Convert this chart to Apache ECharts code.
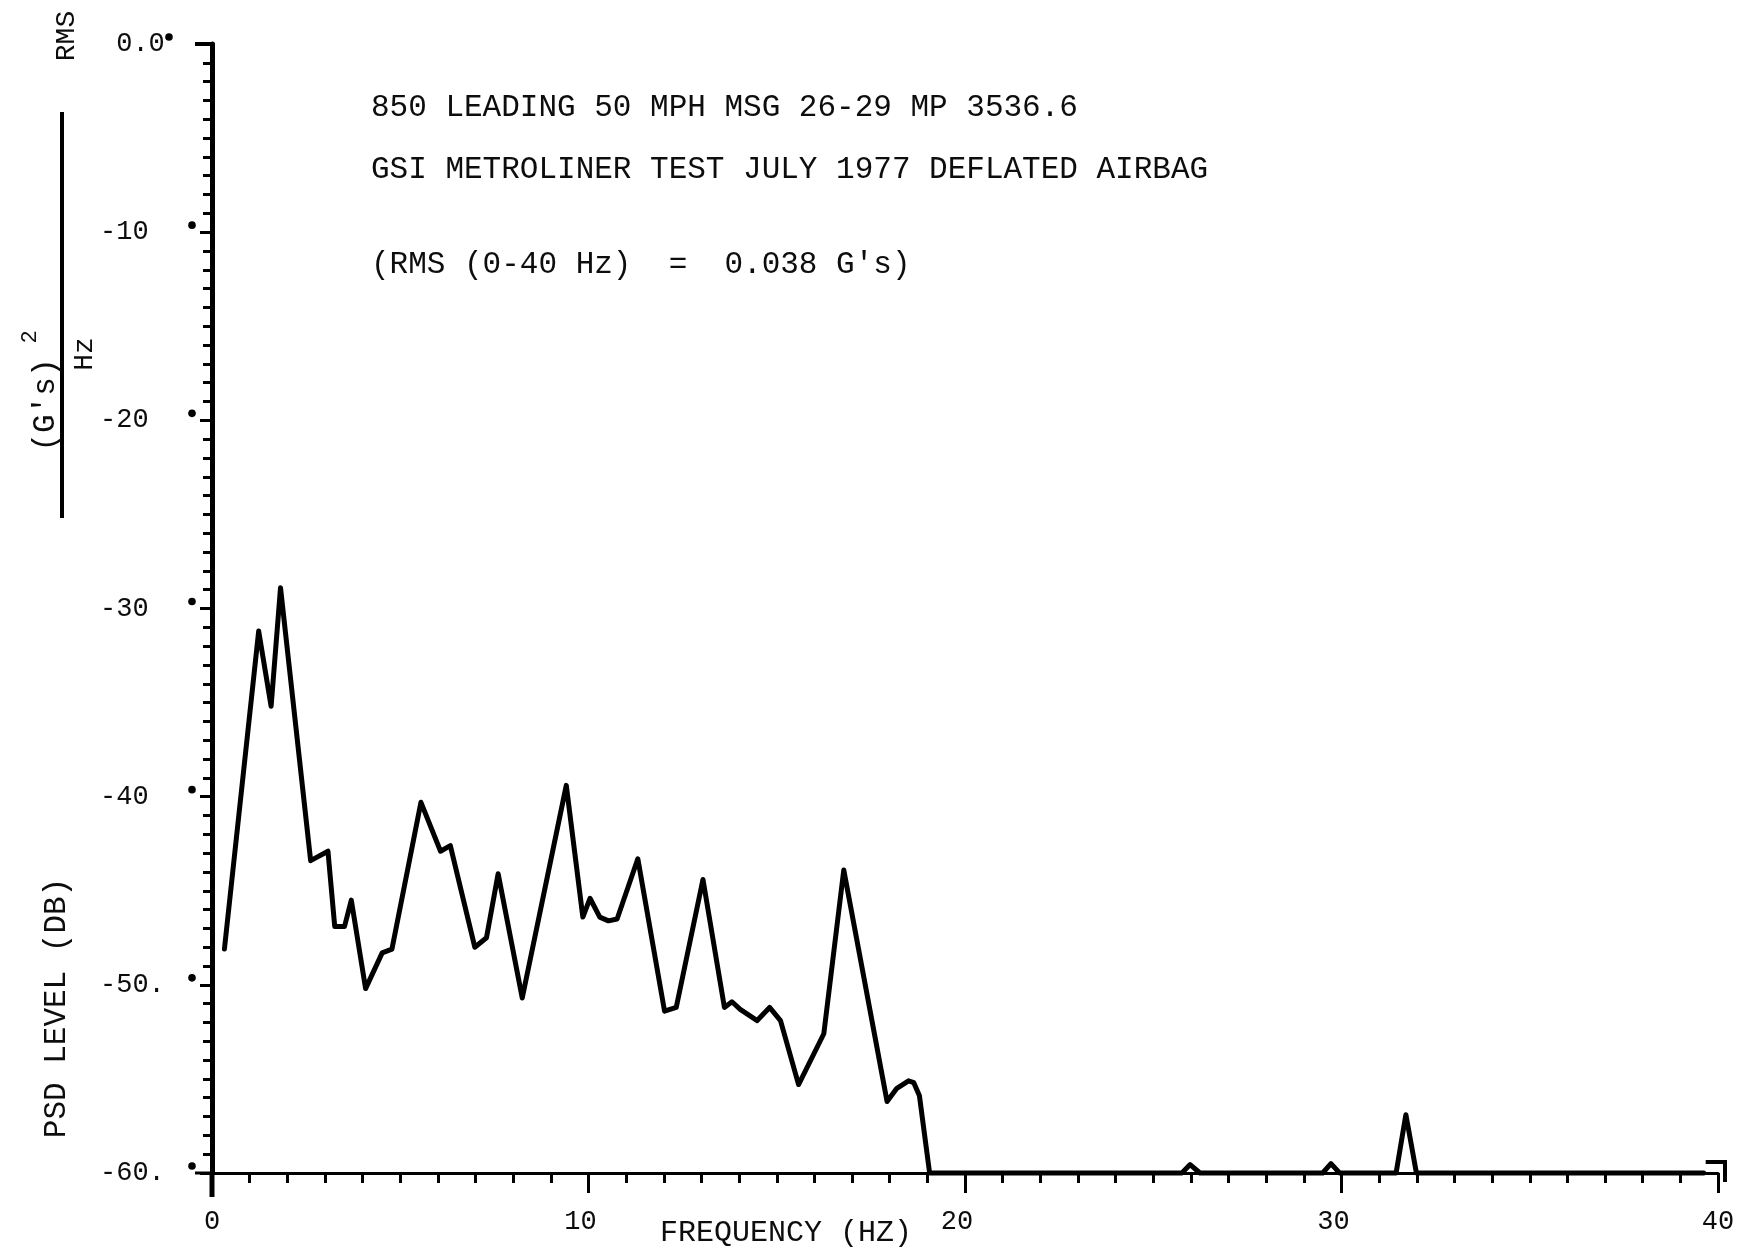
<!DOCTYPE html>
<html>
<head>
<meta charset="utf-8">
<title>PSD LEVEL</title>
<script src="https://cdn.jsdelivr.net/npm/echarts@6/dist/echarts.min.js"></script>
<style>
  html, body { margin: 0; padding: 0; background: #ffffff; }
  #chart { width: 1764px; height: 1258px; }
</style>
</head>
<body>
<div id="chart"></div>
<script>
// Power spectral density of the 850 leading car, 0-40 Hz
const frequencyHz = [
  0.33, 1.24, 1.57, 1.82, 2.62, 3.08, 3.26, 3.52, 3.70, 4.08,
  4.52, 4.78, 5.55, 6.07, 6.33, 6.98, 7.29, 7.60, 8.24, 9.41,
  9.85, 10.04, 10.30, 10.53, 10.76, 11.31, 12.02, 12.33, 13.04, 13.61,
  13.81, 14.03, 14.48, 14.81, 15.10, 15.58, 16.25, 16.78, 17.93, 18.19,
  18.50, 18.64, 18.79, 19.06, 25.76, 25.98, 26.24, 29.50, 29.72, 29.95,
  31.45, 31.71, 31.99, 39.62
];
const psdLevelDb = [
  -48.1, -31.2, -35.2, -28.9, -43.4, -42.9, -46.9, -46.9, -45.5, -50.2,
  -48.3, -48.1, -40.3, -42.9, -42.6, -48.0, -47.5, -44.1, -50.7, -39.4,
  -46.4, -45.4, -46.4, -46.6, -46.5, -43.3, -51.4, -51.2, -44.4, -51.2,
  -50.9, -51.3, -51.9, -51.2, -51.9, -55.3, -52.6, -43.9, -56.2, -55.5,
  -55.1, -55.2, -55.9, -60.0, -60.0, -59.55, -60.0, -60.0, -59.5, -60.0,
  -60.0, -56.9, -60.0, -60.0
];

const xTickValues = [0, 10, 20, 30, 40];
const xTickLabels = ['0', '10', '20', '30', '40'];
const yTickValues = [0, -10, -20, -30, -40, -50, -60];
const yTickLabels = [' 0.0', '-10', '-20', '-30', '-40', '-50.', '-60.'];

const titleLines = [
  '850 LEADING 50 MPH MSG 26-29 MP 3536.6',
  'GSI METROLINER TEST JULY 1977 DEFLATED AIRBAG',
  "(RMS (0-40 Hz)  =  0.038 G's)"
];
const xAxisTitle = 'FREQUENCY (HZ)';
const yAxisTitle = 'PSD LEVEL (DB)';

const MONO = '"Liberation Mono", "DejaVu Sans Mono", monospace';
const INK = '#0d0d0d';

const chart = echarts.init(document.getElementById('chart'), null, { renderer: 'canvas' });

chart.setOption({
  backgroundColor: '#ffffff',
  animation: false,
  grid: { left: 212, right: 46, top: 44, bottom: 85, containLabel: false },
  xAxis: {
    type: 'value',
    min: 0, max: 40, interval: 10,
    axisLine: { onZero: false, lineStyle: { color: '#000', width: 3 } },
    axisTick: { show: true, length: 20, lineStyle: { color: '#000', width: 3 } },
    minorTick: { show: true, splitNumber: 10, length: 10, lineStyle: { color: '#000', width: 3 } },
    splitLine: { show: false },
    minorSplitLine: { show: false },
    axisLabel: {
      margin: 35,
      color: INK,
      fontFamily: MONO,
      fontSize: 27,
      // inner labels sit a little left of their ticks
      formatter: v => {
        const i = xTickValues.indexOf(v);
        if (i < 0) return '';
        return (i === 0 || i === xTickValues.length - 1) ? xTickLabels[i] : '{inner|' + xTickLabels[i] + '}';
      },
      rich: {
        inner: { fontFamily: MONO, fontSize: 27, color: INK, padding: [0, 16, 0, 0] }
      }
    }
  },
  yAxis: {
    type: 'value',
    min: -60, max: 0, interval: 10,
    axisLine: { onZero: false, lineStyle: { color: '#000', width: 5 } },
    axisTick: { show: true, length: 12, lineStyle: { color: '#000', width: 3 } },
    minorTick: { show: true, splitNumber: 10, length: 9, lineStyle: { color: '#000', width: 3 } },
    splitLine: { show: false },
    minorSplitLine: { show: false },
    axisLabel: {
      margin: 112,
      align: 'left',
      verticalAlign: 'middle',
      padding: [0, 0, 14, 0],
      color: INK,
      fontFamily: MONO,
      fontSize: 27,
      formatter: v => { const i = yTickValues.indexOf(v); return i >= 0 ? yTickLabels[i] : ''; }
    }
  },
  series: [{
    type: 'line',
    data: frequencyHz.map((f, i) => [f, psdLevelDb[i]]),
    showSymbol: false,
    clip: false,
    z: 5,
    lineStyle: { color: '#000', width: 5, join: 'round', cap: 'round' }
  }]
});

// Plot furniture: axis stubs, end marker, tick dots and the text blocks
function px(x, y) { return chart.convertToPixel({ gridIndex: 0 }, [x, y]); }
const origin = px(0, -60);
const topLeft = px(0, 0);
const endPt = px(40, -60);
const nearEnd = px(39.62, -60);

function textEl(text, x, y, size, opts) {
  opts = opts || {};
  return {
    type: 'text',
    x: x, y: y,
    rotation: opts.rotation || 0,
    z: 10,
    style: {
      text: text,
      font: size + 'px ' + MONO,
      fill: INK,
      align: opts.align || 'center',
      verticalAlign: 'middle',
      textAlign: opts.align || 'center',
      textVerticalAlign: 'middle'
    }
  };
}
function lineEl(x1, y1, x2, y2, w) {
  return { type: 'line', z: 6, shape: { x1: x1, y1: y1, x2: x2, y2: y2 },
           style: { stroke: '#000', lineWidth: w, lineCap: 'butt' } };
}

const graphics = [];
// x axis carried a little past the y axis, y axis top stub, y axis below the x axis
graphics.push(lineEl(195, origin[1], origin[0], origin[1], 3));
graphics.push(lineEl(195, topLeft[1], origin[0] + 2, topLeft[1], 4));
graphics.push(lineEl(origin[0], origin[1], origin[0], origin[1] + 24, 5));
// end marker at 40 Hz
graphics.push({
  type: 'polyline', z: 6,
  shape: { points: [[nearEnd[0] + 2, endPt[1] - 11], [endPt[0] + 7, endPt[1] - 11], [endPt[0] + 7, endPt[1] + 9]] },
  style: { stroke: '#000', lineWidth: 4, fill: null, lineJoin: 'miter' }
});
// pen dots beside the major y ticks
yTickValues.forEach(v => {
  const p = px(0, v);
  const cx = v === 0 ? 169 : 192;
  graphics.push({ type: 'circle', z: 6, shape: { cx: cx, cy: p[1] - 7, r: 3.8 }, style: { fill: '#000' } });
});
// title block
const titleY = [108, 170, 265];
titleLines.forEach((t, i) => graphics.push(textEl(t, 371, titleY[i], 31, { align: 'left' })));
// axis titles
graphics.push(textEl(xAxisTitle, 786, 1233, 30));
graphics.push(textEl(yAxisTitle, 57, 1008, 31, { rotation: Math.PI / 2 }));
// units: RMS, (G's)^2 / Hz
graphics.push(textEl('RMS', 67, 36, 28, { rotation: Math.PI / 2 }));
graphics.push(lineEl(62, 112, 62, 518, 4));
graphics.push(textEl("(G's)", 46, 405, 31, { rotation: Math.PI / 2 }));
graphics.push(textEl('2', 30, 337, 22, { rotation: Math.PI / 2 }));
graphics.push(textEl('Hz', 85, 354, 28, { rotation: Math.PI / 2 }));

chart.setOption({ graphic: { elements: graphics } });
</script>
</body>
</html>
